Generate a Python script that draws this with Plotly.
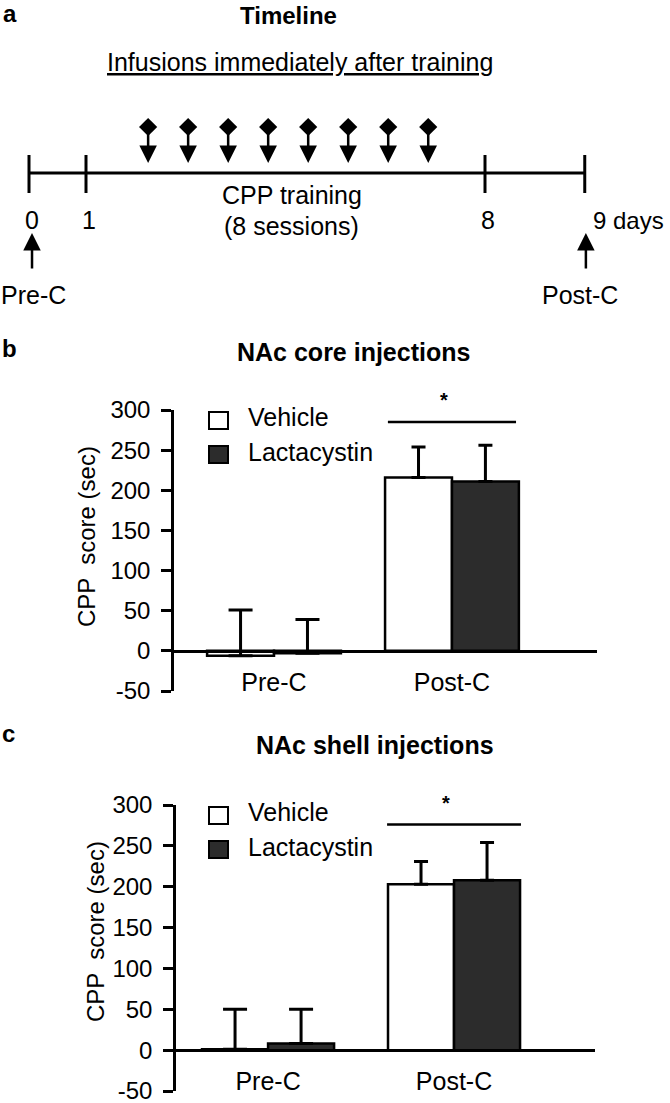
import plotly.graph_objects as go

W, H = 670, 1103

# ---------------- data ----------------
categories = ["Pre-C", "Post-C"]
series_names = ["Vehicle", "Lactacystin"]

core_vehicle = [-6, 216]
core_vehicle_err = [57, 38]
core_lactacystin = [-3, 211]
core_lactacystin_err = [42, 45]

shell_vehicle = [1, 203]
shell_vehicle_err = [49, 28]
shell_lactacystin = [8, 208]
shell_lactacystin_err = [42, 46]

y_ticks = [-50, 0, 50, 100, 150, 200, 250, 300]
y_tick_labels = [str(v) for v in y_ticks]
panel_titles = ["NAc core injections", "NAc shell injections"]
panel_letters = ["b", "c"]
y_title = "CPP  score (sec)"

timeline_day_labels = ["0", "1", "8", "9 days"]
infusion_sessions = [1, 2, 3, 4, 5, 6, 7, 8]

# ---------------- styles / layout helpers ----------------
FONT = "Liberation Sans, Arial, sans-serif"
fills = ["white", "#2c2c2c"]
cap_widths = [12, 7]


def fx(px):
    return px / W


def fy(px):
    return 1 - px / H


def txt(text, x, y, size=25, xanchor="center", **kw):
    d = dict(text=text, x=x, y=y, xref=kw.pop("xref", "paper"), yref=kw.pop("yref", "paper"),
             xanchor=xanchor, yanchor="middle", showarrow=False,
             font=dict(family=FONT, size=size, color="black"))
    d.update(kw)
    return d


panels = [
    dict(values=[core_vehicle, core_lactacystin], errs=[core_vehicle_err, core_lactacystin_err],
         xd=(174, 597), yd=(410, 691), xr=(-0.562, 1.815), bw=0.376,
         sig_y=285, star_px=400, title=(353, 352), letter=(9, 348), ytitle=(86, 537),
         legend_top=410),
    dict(values=[shell_vehicle, shell_lactacystin], errs=[shell_vehicle_err, shell_lactacystin_err],
         xd=(176, 595), yd=(805, 1091), xr=(-0.495, 1.758), bw=0.355,
         sig_y=276, star_px=803, title=(375, 745), letter=(8, 733), ytitle=(95, 932),
         legend_top=805),
]

fig = go.Figure()
shapes = []
annotations = []
layout_axes = {}

for p, cfg in enumerate(panels):
    xname = "x" if p == 0 else "x2"
    yname = "y" if p == 0 else "y2"
    xkey = "xaxis" if p == 0 else "xaxis2"
    ykey = "yaxis" if p == 0 else "yaxis2"
    bw = cfg["bw"]
    for s, name in enumerate(series_names):
        for i, cat in enumerate(categories):
            fig.add_trace(go.Bar(
                x=[cat], y=[cfg["values"][s][i]],
                width=bw, offset=(-bw if s == 0 else 0),
                marker=dict(color=fills[s], line=dict(color="black", width=2.5)),
                error_y=dict(type="data", symmetric=False,
                             array=[cfg["errs"][s][i]], arrayminus=[0],
                             color="black", thickness=3, width=cap_widths[i]),
                name=name, showlegend=False, xaxis=xname, yaxis=yname,
            ))
    ytop, ybot = cfg["yd"]
    zero_px = ytop + (300 - 0) / 350 * (ybot - ytop)
    layout_axes[xkey] = dict(
        domain=[fx(cfg["xd"][0]), fx(cfg["xd"][1])], range=list(cfg["xr"]),
        type="category", categoryarray=categories, categoryorder="array",
        anchor="free", position=fy(zero_px),
        showline=True, linecolor="black", linewidth=2.5, ticks="",
        showgrid=False, zeroline=False, automargin=False,
        tickfont=dict(family=FONT, size=25, color="black"), ticklabelstandoff=8,
    )
    layout_axes[ykey] = dict(
        domain=[fy(ybot), fy(ytop)], range=[-50, 300], anchor=xname,
        tickvals=y_ticks, ticktext=y_tick_labels,
        ticks="outside", ticklen=10, tickwidth=2.5, tickcolor="black",
        showline=True, linecolor="black", linewidth=2.5,
        showgrid=False, zeroline=False, automargin=False, ticklabeloverflow="allow",
        tickfont=dict(family=FONT, size=24, color="black"), ticklabelstandoff=6,
    )
    # significance line and star
    post_idx = categories.index("Post-C")
    shapes.append(dict(type="line", xref=xname, yref=yname,
                       x0=post_idx - 0.36, x1=post_idx + 0.36,
                       y0=cfg["sig_y"], y1=cfg["sig_y"],
                       line=dict(color="black", width=2.5)))
    annotations.append(txt("<b>*</b>", post_idx - 0.045, fy(cfg["star_px"]), size=20, xref=xname))
    # manual legend
    lt = cfg["legend_top"]
    for s, name in enumerate(series_names):
        y0 = lt + 2 + s * 34
        shapes.append(dict(type="rect", xref="paper", yref="paper",
                           x0=fx(209), x1=fx(228), y0=fy(y0), y1=fy(y0 + 17),
                           fillcolor=fills[s], line=dict(color="black", width=2)))
        annotations.append(txt(name, fx(246), fy(lt + 7 + s * 34.5), xanchor="left"))
    # titles
    annotations.append(txt("<b>" + panel_titles[p] + "</b>", fx(cfg["title"][0]), fy(cfg["title"][1]), size=25))
    annotations.append(txt("<b>" + panel_letters[p] + "</b>", fx(cfg["letter"][0]), fy(cfg["letter"][1]), size=24))
    annotations.append(txt(y_title, fx(cfg["ytitle"][0]), fy(cfg["ytitle"][1]), size=24, textangle=-90))

# ---------------- timeline (panel a) ----------------
DAY_PX0, DAY_PX = 29, 57  # px of day 0, px per day
tick_positions = [0, 1, 8, 9.75]
layout_axes["xaxis3"] = dict(domain=[0, 1], range=[-DAY_PX0 / DAY_PX, (W - DAY_PX0) / DAY_PX],
                             visible=False, anchor="y3", fixedrange=True)
layout_axes["yaxis3"] = dict(domain=[0, 1], range=[H, 0], visible=False, anchor="x3", fixedrange=True)

session_pos = [2.09 + (s - 1) * 0.702 for s in infusion_sessions]
fig.add_trace(go.Scatter(x=session_pos, y=[127] * len(session_pos), mode="markers",
                         marker=dict(symbol="diamond", size=14, color="black"),
                         xaxis="x3", yaxis="y3", showlegend=False, hoverinfo="skip"))
for xp in session_pos:
    annotations.append(dict(x=xp, y=163, xref="x3", yref="y3", ax=0, ay=-34, text="",
                            showarrow=True, arrowhead=2, arrowsize=1.4, arrowwidth=2.5,
                            arrowcolor="black"))

shapes.append(dict(type="line", xref="x3", yref="y3", x0=tick_positions[0], x1=tick_positions[-1],
                   y0=173, y1=173, line=dict(color="black", width=3)))
for tp in tick_positions:
    shapes.append(dict(type="line", xref="x3", yref="y3", x0=tp, x1=tp, y0=155, y1=193,
                       line=dict(color="black", width=3)))
for k, lab in enumerate(timeline_day_labels):
    last = k == len(timeline_day_labels) - 1
    annotations.append(txt(lab, tick_positions[k], 220, size=24 if last else 25,
                           xanchor="left" if last else "center",
                           xshift=6 if last else 3, xref="x3", yref="y3"))

# Pre-C / Post-C test arrows
for xp, lab in [(0.053, "Pre-C"), (9.77, "Post-C")]:
    annotations.append(dict(x=xp, y=233, xref="x3", yref="y3", ax=0, ay=37, text="",
                            showarrow=True, arrowhead=2, arrowsize=1.4, arrowwidth=2.5,
                            arrowcolor="black"))
    annotations.append(txt(lab, xp - 0.1 if lab == "Post-C" else xp + 0.03, 295,
                           xref="x3", yref="y3"))

annotations.append(txt("CPP training", fx(292), fy(195)))
annotations.append(txt("(8 sessions)", fx(291), fy(226)))
annotations.append(txt("<u>Infusions immediately after training</u>", fx(300), fy(62)))
annotations.append(txt("<b>Timeline</b>", fx(288), fy(15), size=24))
annotations.append(txt("<b>a</b>", fx(10), fy(13), size=24))

fig.update_layout(
    width=W, height=H, autosize=False,
    margin=dict(l=0, r=0, t=0, b=0, pad=0),
    paper_bgcolor="white", plot_bgcolor="rgba(0,0,0,0)",
    barmode="overlay", showlegend=False,
    shapes=shapes, annotations=annotations,
    font=dict(family=FONT, color="black"),
    **layout_axes,
)

fig.write_html("out.html", config={"displayModeBar": False},
               post_script="document.body.style.margin='0px';")
